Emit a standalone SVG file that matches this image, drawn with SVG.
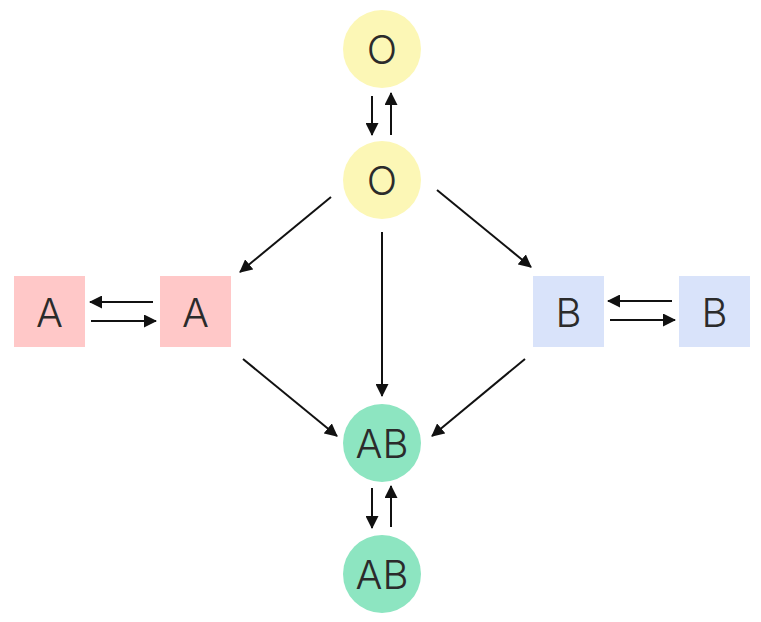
<svg xmlns="http://www.w3.org/2000/svg" width="761" height="622" viewBox="0 0 761 622">
<style>
.lbl{font-family:Inter,"Noto Sans",sans-serif;font-size:40px;font-weight:300;fill:#2b2b2b;text-anchor:middle}
.c{stroke:#111;stroke-width:2;fill:none;marker-end:url(#ah)}
</style>
<defs>
<marker id="ah" viewBox="0 0 13 13" refX="12" refY="6.5" markerWidth="13" markerHeight="13" markerUnits="userSpaceOnUse" orient="auto">
<path d="M0,0 L13,6.5 L0,13 Z" fill="#111"/>
</marker>
</defs>
<rect width="761" height="622" fill="#fff"/>
<g id="o1"><circle cx="382" cy="49" r="39" fill="#fcf7b6"/><text class="lbl" x="382" y="64">O</text></g>
<g id="o2"><circle cx="382" cy="180" r="39" fill="#fcf7b6"/><text class="lbl" x="382" y="195">O</text></g>
<g id="a1"><rect x="14" y="276" width="71" height="71" fill="#ffc8c8"/><text class="lbl" x="49.5" y="326.5">A</text></g>
<g id="a2"><rect x="160" y="276" width="71" height="71" fill="#ffc8c8"/><text class="lbl" x="195.5" y="326.5">A</text></g>
<g id="b1"><rect x="533" y="276" width="71" height="71" fill="#d9e3fa"/><text class="lbl" x="568.5" y="326.5">B</text></g>
<g id="b2"><rect x="679" y="276" width="71" height="71" fill="#d9e3fa"/><text class="lbl" x="714.5" y="326.5">B</text></g>
<g id="ab1"><circle cx="382" cy="443" r="39" fill="#8de5c1"/><text class="lbl" x="382" y="458">AB</text></g>
<g id="ab2"><circle cx="382" cy="574" r="39" fill="#8de5c1"/><text class="lbl" x="382" y="589">AB</text></g>
<g id="connectors">
<line class="c" x1="372" y1="96" x2="372" y2="135"/>
<line class="c" x1="391" y1="135" x2="391" y2="93"/>
<line class="c" x1="153" y1="302" x2="90" y2="302"/>
<line class="c" x1="91" y1="321" x2="156" y2="321"/>
<line class="c" x1="672" y1="301" x2="608" y2="301"/>
<line class="c" x1="610" y1="320" x2="675" y2="320"/>
<line class="c" x1="331" y1="197" x2="240" y2="272"/>
<line class="c" x1="437" y1="190" x2="531" y2="267"/>
<line class="c" x1="382" y1="232" x2="382" y2="396"/>
<line class="c" x1="243" y1="359" x2="337" y2="436"/>
<line class="c" x1="525" y1="359" x2="432" y2="436"/>
<line class="c" x1="372" y1="488" x2="372" y2="528"/>
<line class="c" x1="391" y1="527" x2="391" y2="486"/>
</g>
</svg>
